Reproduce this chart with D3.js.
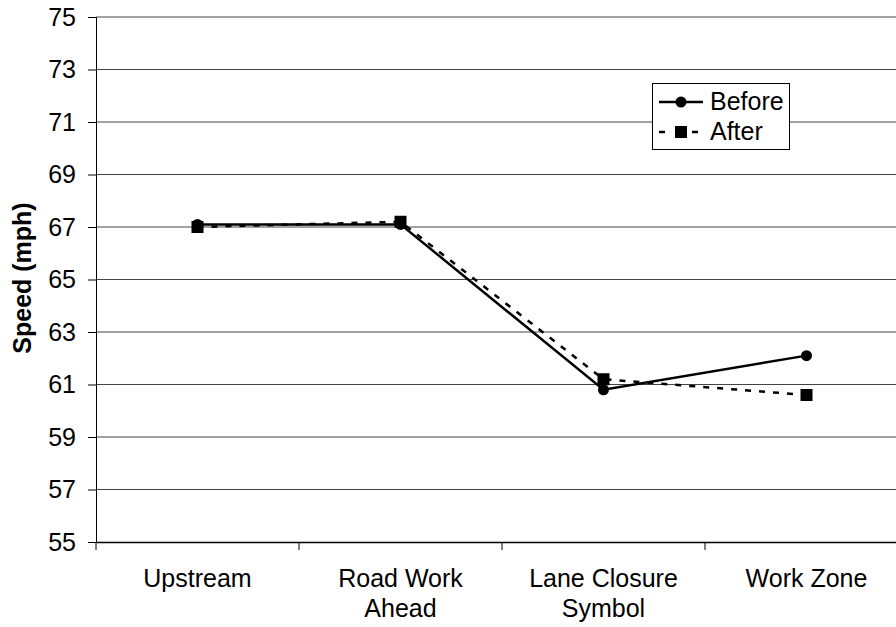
<!DOCTYPE html>
<html><head><meta charset="utf-8">
<script src="https://cdn.jsdelivr.net/npm/d3@7"></script>
<style>body{margin:0;background:#fff}svg{display:block;font-family:"Liberation Sans",Arial,sans-serif}</style>
</head><body><svg id="c" width="896" height="627"></svg>
<script>
const categories = [["Upstream"],["Road Work","Ahead"],["Lane Closure","Symbol"],["Work Zone"]];
const before = [67.1, 67.1, 60.8, 62.1];
const after = [67.0, 67.2, 61.2, 60.6];
const yTicks = [55,57,59,61,63,65,67,69,71,73,75];

const svg = d3.select("#c");
const L=96, R=908, T=17, B=542;
const x = d3.scaleBand().domain(d3.range(categories.length)).range([L,R]);
const y = d3.scaleLinear().domain([55,75]).range([B,T]);

// gridlines
svg.append("g").selectAll("line").data(yTicks.filter(d=>d>55)).join("line")
  .attr("x1",L).attr("x2",R).attr("y1",d=>y(d)).attr("y2",d=>y(d))
  .attr("stroke","#444").attr("stroke-width",1);

// y axis
const ya = svg.append("g").attr("transform",`translate(${L},0)`)
  .call(d3.axisLeft(y).tickValues(yTicks).tickSize(8).tickPadding(12));
ya.select(".domain").attr("stroke","#000");
ya.selectAll(".tick line").attr("stroke","#000");
ya.selectAll("text").attr("font-size",25).attr("fill","#000").attr("font-family","Liberation Sans, Arial, sans-serif");

// x axis
const xa = svg.append("g").attr("transform",`translate(0,${B})`)
  .call(d3.axisBottom(x).tickSize(0).tickFormat(""));
xa.select(".domain").attr("stroke","#000").attr("stroke-width",1.5);
svg.append("g").selectAll("line").data(d3.range(categories.length+1)).join("line")
  .attr("x1",i=>L+i*x.step()).attr("x2",i=>L+i*x.step()).attr("y1",B).attr("y2",B+8).attr("stroke","#000");
const lbl = svg.append("g").selectAll("text").data(categories).join("text")
  .attr("x",(d,i)=>x(i)+x.bandwidth()/2).attr("y",587)
  .attr("text-anchor","middle").attr("font-size",25).attr("fill","#000");
lbl.each(function(d){
  const t=d3.select(this);
  d.forEach((s,k)=>t.append("tspan").attr("x",t.attr("x")).attr("dy",k?30:0).text(s));
});

// y title
svg.append("text").attr("transform","translate(31,278) rotate(-90)")
  .attr("text-anchor","middle").attr("font-weight","bold").attr("font-size",25).text("Speed (mph)");

const cx = i=>x(i)+x.bandwidth()/2;
const line = d3.line().x((d,i)=>cx(i)).y(d=>y(d));
svg.append("path").datum(after).attr("d",line).attr("fill","none").attr("stroke","#000").attr("stroke-width",2.5).attr("stroke-dasharray","6,8");
svg.append("path").datum(before).attr("d",line).attr("fill","none").attr("stroke","#000").attr("stroke-width",2.5);
svg.append("g").selectAll("rect").data(after).join("rect")
  .attr("x",(d,i)=>cx(i)-6).attr("y",d=>y(d)-6).attr("width",12).attr("height",12).attr("fill","#000");
svg.append("g").selectAll("circle").data(before).join("circle")
  .attr("cx",(d,i)=>cx(i)).attr("cy",d=>y(d)).attr("r",5.5).attr("fill","#000");

// legend
const lg = svg.append("g");
lg.append("rect").attr("x",652.5).attr("y",83.5).attr("width",137).attr("height",66).attr("fill","#fff").attr("stroke","#000");
lg.append("line").attr("x1",659).attr("x2",703).attr("y1",102).attr("y2",102).attr("stroke","#000").attr("stroke-width",2.5);
lg.append("circle").attr("cx",681).attr("cy",102).attr("r",5.5);
lg.append("line").attr("x1",659).attr("x2",665).attr("y1",132).attr("y2",132).attr("stroke","#000").attr("stroke-width",2.5);
lg.append("line").attr("x1",692).attr("x2",698).attr("y1",132).attr("y2",132).attr("stroke","#000").attr("stroke-width",2.5);
lg.append("rect").attr("x",675).attr("y",126).attr("width",12).attr("height",12);
lg.append("text").attr("x",710).attr("y",110).attr("font-size",25).text("Before");
lg.append("text").attr("x",710).attr("y",140).attr("font-size",25).text("After");
</script></body></html>
